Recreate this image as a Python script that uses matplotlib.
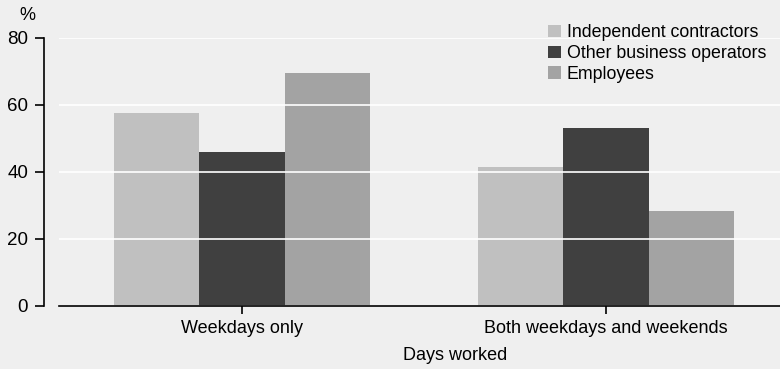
import matplotlib.pyplot as plt
import numpy as np

# data
categories = ["Weekdays only", "Both weekdays and weekends"]
series_names = ["Independent contractors", "Other business operators", "Employees"]
independent = [57.5, 41.4]
other_ops = [45.9, 53.0]
employees = [69.4, 28.3]
colors = ["#c0c0c0", "#404040", "#a3a3a3"]
bg = "#efefef"

plt.rcParams['font.family'] = ['Liberation Sans', 'DejaVu Sans']

fig = plt.figure(figsize=(7.8, 3.69), dpi=100, facecolor=bg)
ax = fig.add_axes([59 / 780, 1 - 306 / 369, 1 - 59 / 780, (306 - 37.5) / 369])
ax.set_facecolor(bg)

x = np.arange(len(categories))
w = 0.234
for i, (vals, name) in enumerate(zip([independent, other_ops, employees], series_names)):
    ax.bar(x + (i - 1) * w, vals, width=w, color=colors[i], label=name, zorder=1)

ax.set_xlim(-0.503, 1.478)
ax.set_ylim(0, 80)
ax.set_yticks([0, 20, 40, 60, 80])
ax.set_xticks(x)
ax.set_xticklabels(categories)

# white gridlines drawn over the bars
ax.grid(axis='y', color='white', linewidth=1.2, zorder=2)
ax.set_axisbelow(False)
ax.xaxis.grid(False)

for s in ['top', 'right']:
    ax.spines[s].set_visible(False)
ax.spines['left'].set_position(('outward', 11))
ax.spines['left'].set_linewidth(1.2)
ax.spines['bottom'].set_linewidth(1.2)
ax.spines['left'].set_zorder(3)
ax.spines['bottom'].set_zorder(3)
ax.tick_params(axis='y', length=6.3, width=1.2, labelsize=13.5, pad=5)
ax.tick_params(axis='x', length=6, width=1.2, labelsize=13, pad=4)

fig.text(27 / 780, 1 - 15 / 369, "%", fontsize=13, ha='center', va='center')
fig.text(455 / 780, 1 - 356 / 369, "Days worked", fontsize=13, ha='center', va='center')

leg = ax.legend(loc='upper left', bbox_to_anchor=((541 - 59) / 721, 1.075), frameon=False,
                fontsize=12.8, handlelength=0.7, handleheight=0.7, handletextpad=0.35,
                labelspacing=0.2, borderaxespad=0)

fig.savefig("out.png", dpi=100, facecolor=bg)
